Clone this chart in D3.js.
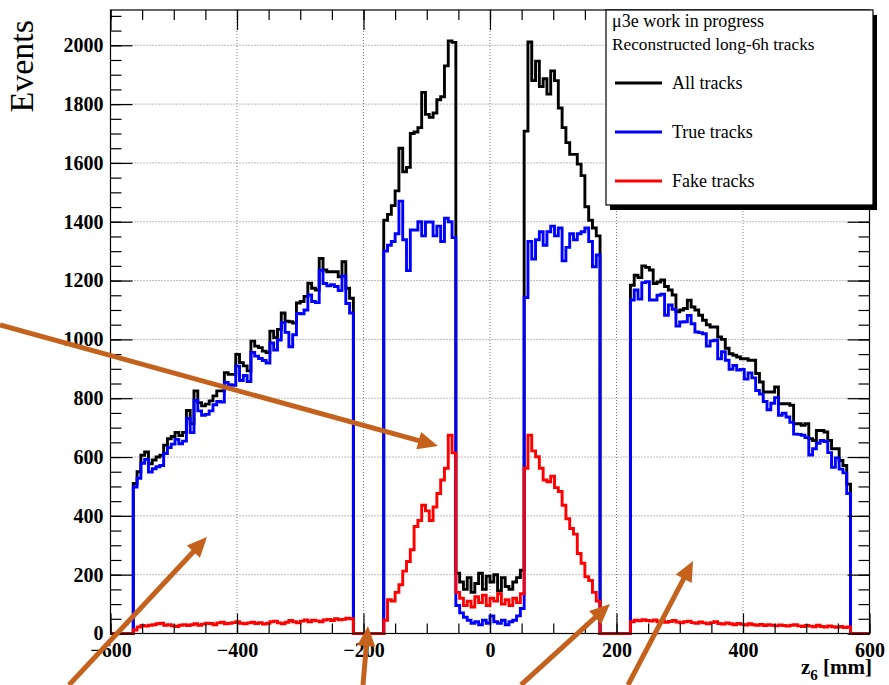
<!DOCTYPE html>
<html><head><meta charset="utf-8">
<script src="https://cdn.jsdelivr.net/npm/d3@7"></script>
<style>
html,body{margin:0;padding:0;background:#fff;}
svg{display:block;font-family:"Liberation Serif","Times New Roman",serif;}
</style></head><body>
<svg id="chart" width="889" height="685"></svg>
<script>
// ---- binning: 200 bins of 6 mm from -600 to 600 ----
const xMin = -600, xMax = 600, binWidth = 6;
const yMax = 2120;

// ---- histogram contents (Events per bin) ----
const allTracks = [
  0,0,0,0,0,0,
  510,550,606,617,577,590,600,606,640,662,670,684,673,684,758,713,825,785,774,780,791,808,825,825,
  887,881,881,949,921,910,893,994,977,972,960,955,1028,1006,1034,1090,1062,1060,1056,1124,1129,1146,
  1191,1174,1168,1275,1236,1230,1230,1230,1213,1264,1174,1140,
  0,0,0,0,0,0,0,0,
  1405,1425,1455,1505,1650,1570,1585,1700,1705,1720,1840,1765,1755,1770,1815,1825,1930,2015,2010,
  205,175,150,190,140,170,205,150,195,175,200,145,190,160,150,175,190,215,
  1708,2011,1880,1946,1860,1886,1834,1913,1880,1787,1720,1669,1629,1629,1596,1557,1451,1405,1379,1352,
  0,0,0,0,0,0,0,0,
  1184,1218,1210,1250,1245,1236,1190,1195,1202,1180,1168,1151,1094,1100,1105,1133,1110,1100,1082,1065,
  1050,1042,1042,1008,1000,970,951,946,940,934,934,929,929,884,855,821,821,821,838,781,
  781,781,776,713,713,708,713,662,656,690,690,685,656,628,628,588,571,508,
  0,0,0,0,0
];
const trueTracks = [
  0,0,0,0,0,0,
  498,528,579,592,549,560,567,571,612,632,644,660,645,654,731,683,792,757,742,745,757,778,789,787,
  854,846,844,909,860,877,857,956,943,935,928,920,988,964,998,1057,1024,975,1016,1088,1087,1100,
  1151,1129,1125,1235,1190,1182,1186,1180,1166,1216,1122,1090,
  0,0,0,0,0,0,0,0,
  1300,1320,1333,1359,1470,1339,1234,1372,1372,1400,1352,1399,1399,1352,1385,1333,1412,1400,1346,
  95,70,55,45,35,40,30,45,35,60,40,35,45,30,40,45,60,85,
  1142,1333,1273,1339,1366,1320,1366,1385,1352,1379,1267,1313,1359,1339,1359,1366,1379,1333,1247,1287,
  0,0,0,0,0,0,0,0,
  1134,1168,1137,1193,1196,1134,1134,1150,1154,1082,1117,1102,1045,1059,1060,1081,1053,1025,1023,1019,
  977,995,997,934,958,929,898,911,896,898,865,886,869,826,814,789,761,783,802,742,
  749,736,718,678,677,674,666,607,628,647,656,653,615,565,597,559,546,476,
  0,0,0,0,0
];
const fakeTracks = [
  0,0,0,0,0,0,
  12,22,27,25,28,30,33,35,28,30,26,24,28,30,27,30,33,28,32,35,34,30,36,38,
  33,35,37,40,35,33,36,38,34,37,32,35,40,42,36,33,38,44,40,36,42,46,
  40,45,43,40,46,48,44,50,47,48,52,50,
  0,0,0,0,0,0,0,0,
  45,115,110,140,166,212,245,285,364,384,436,417,384,430,476,522,562,674,614,
  140,120,95,110,90,125,105,130,95,120,110,135,100,115,95,120,105,135,
  562,674,621,601,562,522,516,535,496,483,436,390,357,338,272,239,193,180,140,110,
  0,0,0,0,0,0,0,0,
  40,45,43,47,44,42,46,40,43,38,41,44,39,36,40,42,37,35,39,36,
  33,37,40,34,32,36,33,30,34,31,29,33,30,28,31,27,30,28,26,29,
  27,25,28,30,26,24,27,25,23,28,24,22,26,23,21,24,20,22,
  0,0,0,0,0
];

// ---- ticks & labels ----
const xMajorTicks = [-600,-400,-200,0,200,400,600];
const xMinorTicks = d3.range(-600, 601, 50);
const yMajorTicks = [0,200,400,600,800,1000,1200,1400,1600,1800,2000];
const yMinorTicks = d3.range(0, 2101, 50);
const seriesNames = ["All tracks","True tracks","Fake tracks"];
const seriesColors = ["#000000","#0000ff","#ff0000"];
const legendTitle = ["\u03bc3e work in progress","Reconstructed long-6h tracks"];
const legendTitleSizes = [18, 17.3];
const yTitle = "Events";

// annotation arrows, in data units [x mm, Events]: start -> tip
const arrowStarts = [[-774.7,1049],[-665.6,-175],[-200.8,-175],[49,-175],[218.2,-175]];
const arrowTips   = [[-82.2,637.5],[-447.4,328],[-192.9,25.5],[189.7,100],[321,246.5]];

// ---- layout ----
const W = 889, H = 685;
const L = 110.5, R = 869.5, T = 10, B = 633.5;
const svg = d3.select("#chart");
const x = d3.scaleLinear().domain([xMin, xMax]).range([L, R]);
const y = d3.scaleLinear().domain([0, yMax]).range([B, T]);

svg.append("rect").attr("width", W).attr("height", H).attr("fill", "#fff");

// grid
const grid = svg.append("g");
grid.selectAll("line.gx").data(xMajorTicks.filter(d => d > xMin && d < xMax)).join("line")
  .attr("x1", d => x(d)).attr("x2", d => x(d)).attr("y1", T).attr("y2", B);
grid.selectAll("line.gy").data(yMajorTicks.filter(d => d > 0)).join("line")
  .attr("x1", L).attr("x2", R).attr("y1", d => y(d)).attr("y2", d => y(d));
grid.selectAll("line").attr("stroke", "#7a7a7a").attr("stroke-width", 1).attr("stroke-dasharray", "1,2");

// histograms
const line = d3.line().x(d => x(d[0])).y(d => y(d[1])).curve(d3.curveStepAfter);
function pts(vals) {
  const p = vals.map((v, i) => [xMin + i * binWidth, v]);
  p.push([xMax, vals[vals.length - 1]]);
  return p;
}
[allTracks, trueTracks, fakeTracks].forEach((vals, i) => {
  svg.append("path").attr("d", line(pts(vals)))
    .attr("fill", "none").attr("stroke", seriesColors[i])
    .attr("stroke-width", 2.9).attr("stroke-linejoin", "miter");
});

// axes
function styleAxis(g) {
  g.select(".domain").remove();
  g.selectAll(".tick line").attr("stroke", "#000").attr("stroke-width", 1.2);
  g.attr("font-family", "'Liberation Serif','Times New Roman',serif")
   .attr("font-size", 20).attr("font-weight", "bold");
  g.selectAll(".tick text").attr("fill", "#000");
}
const fmt = d => d < 0 ? "\u2212" + Math.abs(d) : String(d);
svg.append("g").attr("transform", `translate(${L},0)`)
  .call(d3.axisLeft(y).tickValues(yMinorTicks).tickSize(-11).tickFormat("")).call(styleAxis);
svg.append("g").attr("transform", `translate(${L},0)`)
  .call(d3.axisLeft(y).tickValues(yMajorTicks).tickSize(-22).tickPadding(7).tickFormat(fmt)).call(styleAxis);
svg.append("g").attr("transform", `translate(${R},0)`)
  .call(d3.axisRight(y).tickValues(yMinorTicks).tickSize(-11).tickFormat("")).call(styleAxis);
svg.append("g").attr("transform", `translate(${R},0)`)
  .call(d3.axisRight(y).tickValues(yMajorTicks).tickSize(-22).tickFormat("")).call(styleAxis);
svg.append("g").attr("transform", `translate(0,${B})`)
  .call(d3.axisBottom(x).tickValues(xMinorTicks).tickSize(-10).tickFormat("")).call(styleAxis);
svg.append("g").attr("transform", `translate(0,${B})`)
  .call(d3.axisBottom(x).tickValues(xMajorTicks).tickSize(-20).tickPadding(9).tickFormat(fmt)).call(styleAxis);
svg.append("g").attr("transform", `translate(0,${T})`)
  .call(d3.axisTop(x).tickValues(xMinorTicks).tickSize(-10).tickFormat("")).call(styleAxis);
svg.append("g").attr("transform", `translate(0,${T})`)
  .call(d3.axisTop(x).tickValues(xMajorTicks).tickSize(-20).tickFormat("")).call(styleAxis);

// frame
svg.append("rect").attr("x", L).attr("y", T).attr("width", R - L).attr("height", B - T)
  .attr("fill", "none").attr("stroke", "#000").attr("stroke-width", 1.2);

// axis titles
svg.append("text").attr("transform", "translate(33,20) rotate(-90)")
  .attr("text-anchor", "end").attr("font-size", 34).attr("fill", "#000").text(yTitle);
const xt = svg.append("text").attr("x", 872).attr("y", 674).attr("text-anchor", "end")
  .attr("font-size", 21).attr("font-weight", "bold").attr("fill", "#000");
xt.append("tspan").text("z");
xt.append("tspan").attr("font-size", 15).attr("dy", 6).text("6");
xt.append("tspan").attr("dy", -6).text(" [mm]");

// legend
const lg = svg.append("g");
lg.append("rect").attr("x", 610).attr("y", 15).attr("width", 267).attr("height", 195).attr("fill", "#000");
lg.append("rect").attr("x", 606).attr("y", 10).attr("width", 267).attr("height", 195)
  .attr("fill", "#fff").attr("stroke", "#000").attr("stroke-width", 1.2);
legendTitle.forEach((t, i) => {
  lg.append("text").attr("x", 612).attr("y", 27 + i * 23).attr("font-size", legendTitleSizes[i])
    .attr("fill", "#000").text(t);
});
seriesNames.forEach((n, i) => {
  const yy = 83 + i * 49;
  lg.append("line").attr("x1", 615).attr("x2", 662).attr("y1", yy).attr("y2", yy)
    .attr("stroke", seriesColors[i]).attr("stroke-width", 3);
  lg.append("text").attr("x", 672).attr("y", yy + 6).attr("font-size", 18).attr("fill", "#000").text(n);
});

// arrows
const arrowColor = "#c4621d";
const ag = svg.append("g");
arrowStarts.forEach((s, i) => {
  const sx = x(s[0]), sy = y(s[1]);
  const tx = x(arrowTips[i][0]), ty = y(arrowTips[i][1]);
  const dx = tx - sx, dy = ty - sy, len = Math.hypot(dx, dy);
  const ux = dx / len, uy = dy / len, nx = -uy, ny = ux;
  const hl = 20, hw = 9;
  const bx = tx - ux * hl, by = ty - uy * hl;
  ag.append("line").attr("x1", sx).attr("y1", sy).attr("x2", bx + ux * 2).attr("y2", by + uy * 2)
    .attr("stroke", arrowColor).attr("stroke-width", 5);
  ag.append("path")
    .attr("d", `M${tx},${ty}L${bx + nx * hw},${by + ny * hw}L${bx - nx * hw},${by - ny * hw}Z`)
    .attr("fill", arrowColor);
});
</script>
</body></html>
